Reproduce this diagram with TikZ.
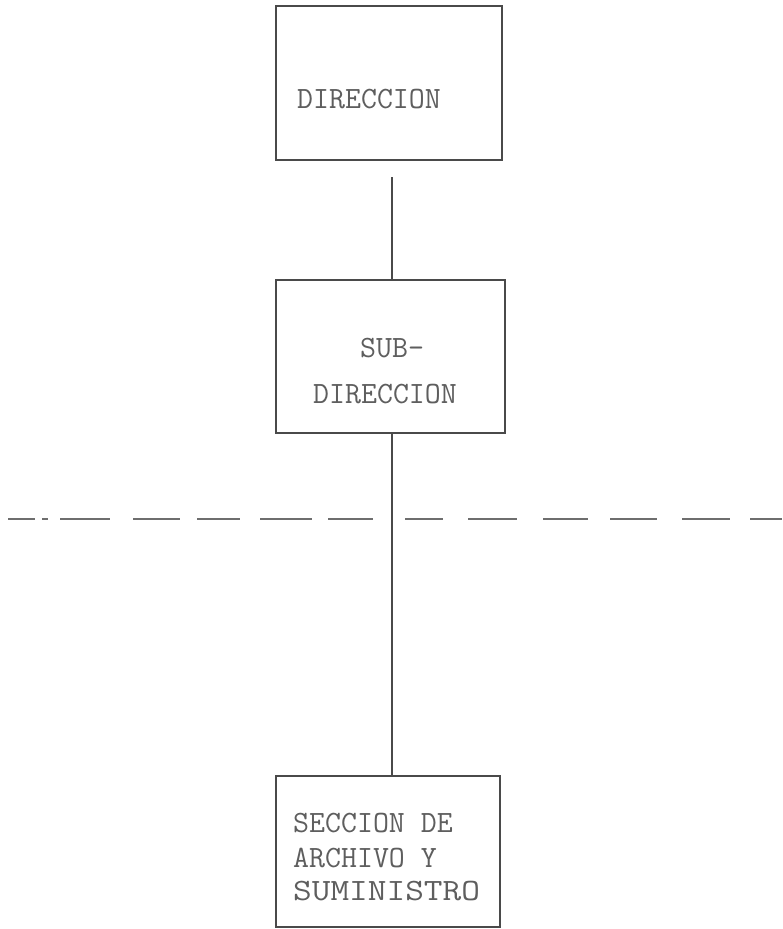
\documentclass[tikz,border=0pt]{standalone}
\usetikzlibrary{calc}
\definecolor{inkline}{HTML}{4A4A4A}
\definecolor{inktext}{HTML}{5E5E5E}
\begin{document}
\begin{tikzpicture}[x=1pt,y=1pt,
  orgbox/.style={draw=inkline,line width=1.8pt,rectangle,inner sep=0pt},
  typed/.style={inner sep=0pt,anchor=base west,text=inktext,font=\ttfamily\fontsize{31}{36}\selectfont},
  conn/.style={draw=inkline,line width=1.8pt},
  dashseg/.style={draw=inkline!80,line width=1.8pt}]
\useasboundingbox (0,0) rectangle (782,-929);
% boxes
\node[orgbox,minimum width=226pt,minimum height=154pt] (dir) at (389,-83) {};
\node[orgbox,minimum width=229pt,minimum height=153pt] (sub) at (390.5,-356.5) {};
\node[orgbox,minimum width=224pt,minimum height=151pt] (sec) at (388,-851.5) {};
% texts
\node[typed] (tdir) at (297,-108) {DIRECCION};
\node[typed] (tsub1) at (360,-357) {SUB-};
\node[typed] (tsub2) at (313,-403) {DIRECCION};
\node[typed] (tsec1) at (293,-832) {SECCION DE};
\node[typed] (tsec2) at (293,-867) {ARCHIVO Y};
\node[typed] (tsec3) at (293,-900) {\scalebox{1.17}[1]{SUMINISTRO}};
% connectors
\coordinate (stem) at (392,-177);
\draw[conn] (stem) -- (stem |- sub.north);
\draw[conn] (stem |- sub.south) -- (stem |- sec.north);
% dashed boundary line
\foreach \a/\b in {8/35,42/48,60/110,133/180,197/240,260/312,328/373,405/443,468/517,543/588,610/657,682/730,750/782}
  \draw[dashseg] (\a,-519) -- (\b,-519);
\end{tikzpicture}
\end{document}
